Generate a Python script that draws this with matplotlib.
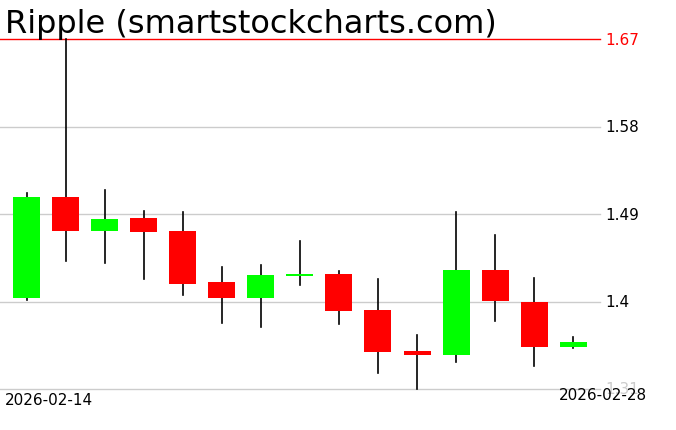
import matplotlib.pyplot as plt
from matplotlib.patches import Rectangle

# Daily candles, Ripple, 2026-02-14 .. 2026-02-28
dates = ["2026-02-14", "2026-02-15", "2026-02-16", "2026-02-17", "2026-02-18",
         "2026-02-19", "2026-02-20", "2026-02-21", "2026-02-22", "2026-02-23",
         "2026-02-24", "2026-02-25", "2026-02-26", "2026-02-27", "2026-02-28"]
opens = [1.404, 1.5075, 1.4728, 1.4859, 1.4725, 1.4201, 1.4039, 1.4265,
         1.4283, 1.3912, 1.3491, 1.3453, 1.4327, 1.3995, 1.3535]
closes = [1.5075, 1.4728, 1.4849, 1.4718, 1.4183, 1.4039, 1.4273, 1.4285,
          1.3906, 1.3484, 1.3453, 1.4327, 1.4008, 1.3535, 1.3583]
highs = [1.5116, 1.67, 1.5147, 1.4931, 1.4917, 1.4355, 1.4375, 1.4626,
         1.4314, 1.4231, 1.3655, 1.4917, 1.4684, 1.4242, 1.3638]
lows = [1.4019, 1.442, 1.4396, 1.4235, 1.407, 1.3782, 1.3741, 1.4173,
        1.3772, 1.3268, 1.31, 1.3381, 1.3802, 1.334, 1.3522]
levels = [1.31, 1.4, 1.49, 1.58]
top_level = 1.67

W, H = 676, 431
fig = plt.figure(figsize=(W / 100, H / 100), dpi=100)
ax = fig.add_axes([0, (H - 390) / H, 600 / W, 350 / H])
ax.set_xlim(-26.5 / 39.05, (600 - 26.5) / 39.05)
ax.set_ylim(levels[0], top_level)
ax.set_axis_off()

# grid lines + right side labels
for lv in levels:
    ax.axhline(lv, color="#cccccc", lw=1.0, zorder=1, clip_on=False)
    col = "#cccccc" if lv == levels[0] else "black"
    ax.annotate(str(lv), xy=(1, lv), xycoords=("axes fraction", "data"),
                xytext=(5, 0), textcoords="offset pixels",
                va="center", ha="left", fontsize=11, color=col)
ax.axhline(top_level, color="red", lw=1.0, zorder=1, clip_on=False)
ax.annotate(str(top_level), xy=(1, top_level), xycoords=("axes fraction", "data"),
            xytext=(5, 0), textcoords="offset pixels",
            va="center", ha="left", fontsize=11, color="red")

# candles
bw = 27 / 39.05
for i in range(len(dates)):
    o, c, h, l = opens[i], closes[i], highs[i], lows[i]
    ax.plot([i, i], [l, h], color="black", lw=1.2, zorder=2, clip_on=False)
    color = "#00ff00" if c >= o else "#ff0000"
    lo, hi = min(o, c), max(o, c)
    ax.add_patch(Rectangle((i - bw / 2, lo), bw, max(hi - lo, 0.002),
                           facecolor=color, edgecolor="none", zorder=3))

fig.text(5 / W, 1 - 9 / H, "Ripple (smartstockcharts.com)", fontsize=23,
         ha="left", va="top", color="black")
fig.text(5 / W, 1 - 393 / H, dates[0], fontsize=11, ha="left", va="top")
fig.text(647 / W, 1 - 388 / H, dates[-1], fontsize=11, ha="right", va="top")

fig.savefig("out.png", dpi=100)
